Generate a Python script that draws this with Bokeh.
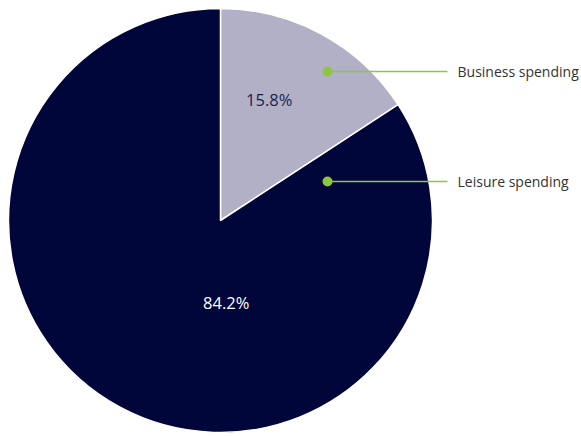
import math
from bokeh.plotting import figure
from bokeh.models import Range1d
from bokeh.core.properties import value
from bokeh.embed import file_html
from bokeh.resources import INLINE

categories = ["Business spending", "Leisure spending"]
shares = [15.8, 84.2]
pct_labels = ["15.8%", "84.2%"]

slice_colors = ["#b1b0c6", "#00053a"]
pct_text_colors = ["#1c1f4e", "#ffffff"]
GREEN = "#8dc63f"

W, H = 581, 436
# data units == screen pixels (y upward negative)
p = figure(width=W, height=H, output_backend="svg", toolbar_location=None,
           x_range=Range1d(0, W), y_range=Range1d(-H, 0), min_border=0,
           outline_line_color=None)
p.axis.visible = False
p.grid.visible = False
p.background_fill_color = "white"
p.border_fill_color = "white"

cx, cy, R = 220, -220, 212

total = sum(shares)
start = 0.0
starts, ends = [], []
for s in shares:
    a0 = math.pi / 2 - 2 * math.pi * start / total
    a1 = math.pi / 2 - 2 * math.pi * (start + s) / total
    starts.append(a0)
    ends.append(a1)
    start += s

p.wedge(x=[cx] * len(shares), y=[cy] * len(shares), radius=R,
        start_angle=starts, end_angle=ends, direction="clock",
        fill_color=slice_colors, line_color="white", line_width=1.5)

# percentage labels (polar placement)
label_r = [130, 82]
label_a = [22, 176]  # degrees clockwise from top
for txt, col, r, a in zip(pct_labels, pct_text_colors, label_r, label_a):
    lx = cx + r * math.sin(math.radians(a))
    ly = cy + r * math.cos(math.radians(a))
    p.text(x=[lx], y=[ly], text=[txt], text_color=col, text_font=value("Open Sans"),
           text_font_size="16.5px", text_align="center", text_baseline="middle")

# callouts
dot_x = 327
line_end = 447
text_x = 457
callout_y = [-71, -181]
for name, y in zip(categories, callout_y):
    p.line(x=[dot_x, line_end], y=[y, y], line_color=GREEN, line_width=1.5)
    p.scatter(x=[dot_x], y=[y], size=10, fill_color=GREEN, line_color=None)
    p.text(x=[text_x], y=[y], text=[name], text_color="#333333",
           text_font=value("Open Sans"), text_font_size="14px",
           text_align="left", text_baseline="middle")

open("out.html", "w").write(file_html(p, INLINE))
